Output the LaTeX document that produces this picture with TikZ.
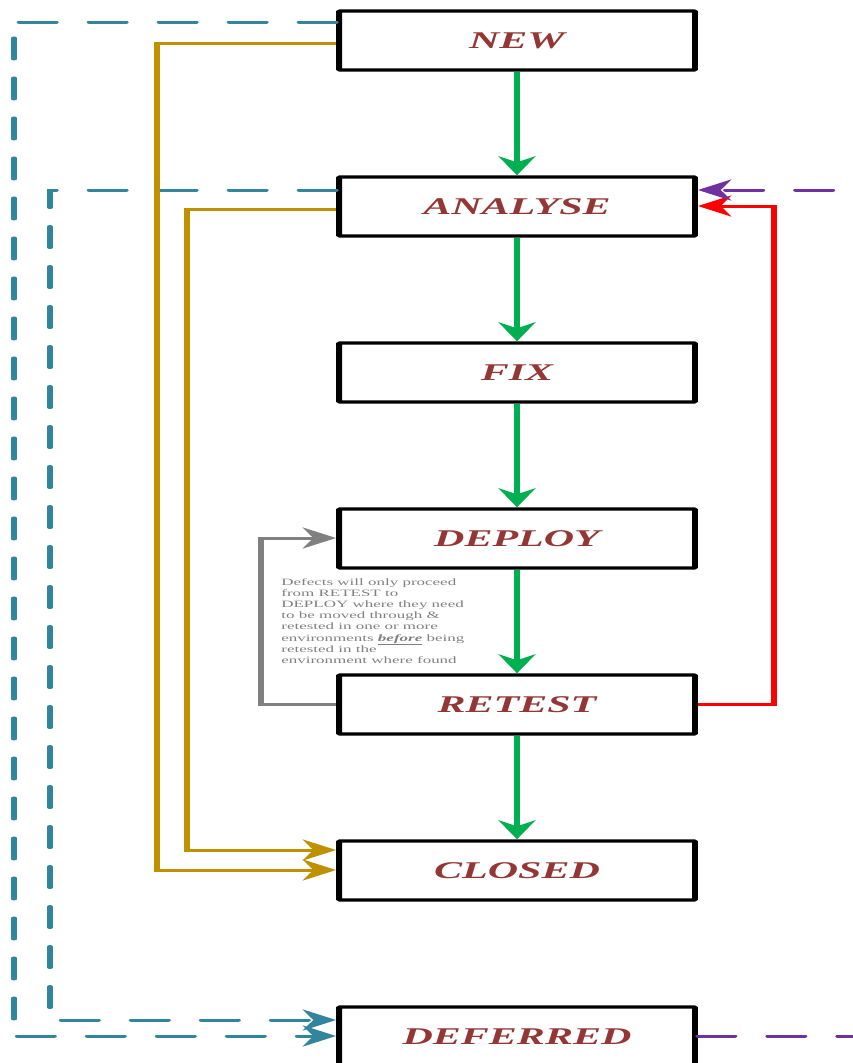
\documentclass[tikz,border=0pt]{standalone}
\usepackage{fontspec}
\setmainfont{Liberation Serif}
\usetikzlibrary{arrows.meta}
\definecolor{titlered}{HTML}{943634}
\definecolor{flowgreen}{HTML}{00B050}
\definecolor{tealline}{HTML}{31859C}
\definecolor{goldline}{HTML}{BF9000}
\definecolor{purpleline}{HTML}{7030A0}
\definecolor{notegray}{HTML}{808080}
\tikzset{
  state/.style={draw=black, line width=3.4pt, rounded corners=0.8pt,
    minimum width=203.4pt, minimum height=59pt, inner sep=0pt,
    font=\fontsize{24}{28}\selectfont\bfseries\itshape, text=titlered},
  tip/.style={-{Stealth[length=19pt,width=21pt,inset=6pt]}},
  link/.style={tip, line width=3pt},
  flow/.style={link, draw=flowgreen},
  goldlink/.style={link, draw=goldline},
  graylink/.style={link, draw=notegray},
  redlink/.style={link, draw=red},
  dashlink/.style={link, line cap=round, dash pattern=on 21pt off 19pt},
  tealdash/.style={dashlink, draw=tealline},
  purpledash/.style={dashlink, draw=purpleline},
}
\begin{document}
\begin{tikzpicture}[x=0.571429pt,y=-1pt]
\begin{scope}
  % the whole chart is drawn stretched horizontally
  \pgflowlevel{\pgftransformxscale{1.75}}
  \clip (0,-5) rectangle (853,1063);

  % states
  \node[state] (new)      at (517,40.5)   {NEW};
  \node[state] (analyse)  at (517,206.5)  {ANALYSE};
  \node[state] (fix)      at (517,372.5)  {FIX};
  \node[state] (deploy)   at (517,538.5)  {DEPLOY};
  \node[state] (retest)   at (517,704.5)  {RETEST};
  \node[state] (closed)   at (517,870.5)  {CLOSED};
  \node[state] (deferred) at (517,1036.5) {DEFERRED};

  % main flow
  \draw[flow] (new.south)     -- (analyse.north);
  \draw[flow] (analyse.south) -- (fix.north);
  \draw[flow] (fix.south)     -- (deploy.north);
  \draw[flow] (deploy.south)  -- (retest.north);
  \draw[flow] (retest.south)  -- (closed.north);

  % routing points
  \coordinate (ta) at (14,22);   \coordinate (tb) at (14,1036);
  \coordinate (tc) at (50,190);  \coordinate (td) at (50,1020);
  \coordinate (ga) at (157,43);  \coordinate (gb) at (157,870);
  \coordinate (gc) at (187,209); \coordinate (gd) at (187,850);
  \coordinate (ra) at (261,704); \coordinate (rb) at (261,538);
  \coordinate (rc) at (774,704); \coordinate (rd) at (774,206);
  \coordinate (pa) at (900,1036); \coordinate (pb) at (900,190);

  % straight to deferred
  \draw[tealdash] (new.west |- ta) -- (ta) -- (tb) -- (deferred.west |- tb);
  \draw[tealdash] (analyse.west |- tc) -- (tc) -- (td) -- (deferred.west |- td);

  % straight to closed
  \draw[goldlink] (new.west |- ga) -- (ga) -- (gb) -- (closed.west |- gb);
  \draw[goldlink] (analyse.west |- gc) -- (gc) -- (gd) -- (closed.west |- gd);

  % retest back to deploy
  \draw[graylink] (retest.west |- ra) -- (ra) -- (rb) -- (deploy.west |- rb);

  % retest failed, back to analyse
  \draw[redlink] (retest.east |- rc) -- (rc) -- (rd) -- (analyse.east |- rd);

  % deferred reopened
  \draw[purpledash] (deferred.east |- pa) -- (pa) -- (pb) -- (analyse.east |- pb);

  % note
  \node[anchor=north west, inner sep=0pt, align=left,
        font=\fontsize{9.7}{11.2}\selectfont, text=notegray] (note) at (281,578)
    {Defects will only proceed\\
     from RETEST to\\
     DEPLOY where they need\\
     to be moved through \&\\
     retested in one or more\\
     environments \underline{\textbf{\textit{before}}} being\\
     retested in the\\
     environment where found};
\end{scope}
\pgfresetboundingbox
\useasboundingbox (0pt,0pt) rectangle (853pt,-1063pt);
\end{tikzpicture}
\end{document}
